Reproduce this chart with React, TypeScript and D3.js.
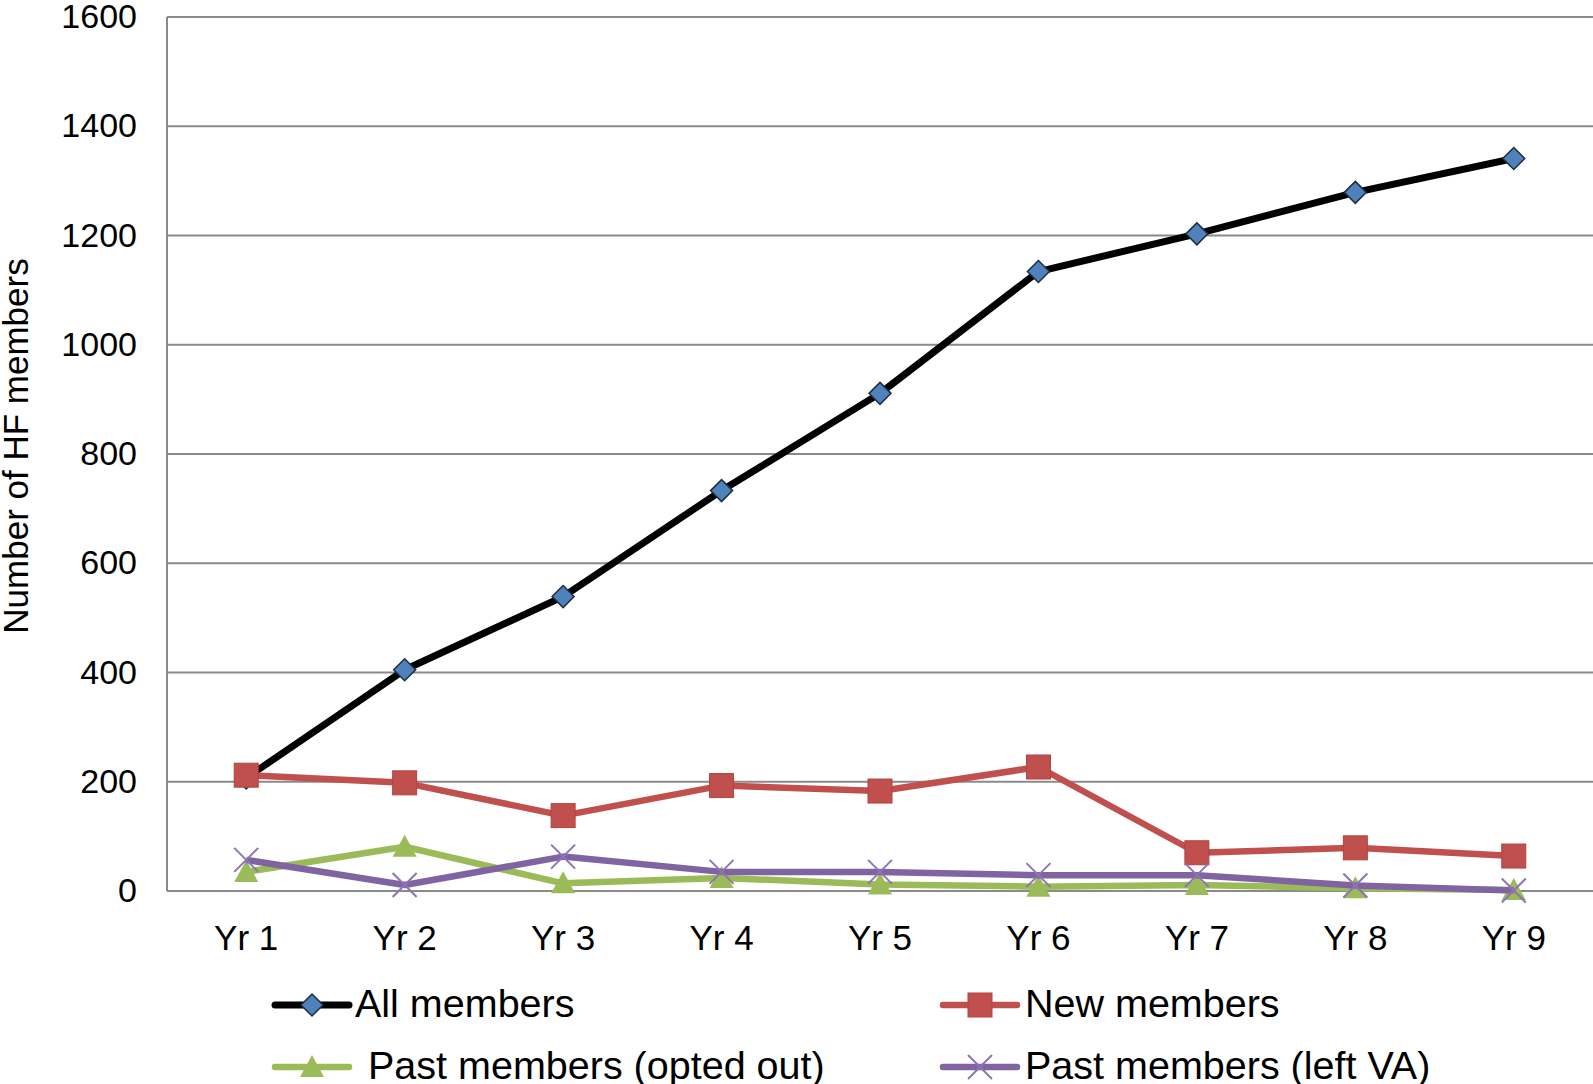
import React from "react";
import * as d3 from "d3";

const categories = ["Yr 1", "Yr 2", "Yr 3", "Yr 4", "Yr 5", "Yr 6", "Yr 7", "Yr 8", "Yr 9"];
const allMembers = [207, 405, 539, 733, 911, 1134, 1203, 1279, 1341];
const newMembers = [212, 198, 138, 193, 183, 227, 70, 79, 64];
const pastOptedOut = [35, 81, 14, 24, 12, 8, 11, 5, 2];
const pastLeftVA = [57, 11, 63, 35, 35, 29, 29, 10, 1];
const yTicks = [0, 200, 400, 600, 800, 1000, 1200, 1400, 1600];

const W = 1593;
const H = 1084;
const FONT = "'Liberation Sans', Arial, sans-serif";

type MarkerKind = "diamond" | "square" | "triangle" | "x";

function Marker({ kind, x, y }: { kind: MarkerKind; x: number; y: number }) {
  if (kind === "diamond") {
    const r = 11;
    return (
      <path
        d={`M${x},${y - r}L${x + r},${y}L${x},${y + r}L${x - r},${y}Z`}
        fill="#4F81BD"
        stroke="#1f2d3d"
        strokeWidth={1.5}
      />
    );
  }
  if (kind === "square") {
    const s = 24;
    return <rect x={x - s / 2} y={y - s / 2} width={s} height={s} fill="#C0504D" stroke="#B4413E" strokeWidth={1} />;
  }
  if (kind === "triangle") {
    const w = 24, h = 20;
    return <path d={`M${x},${y - h / 2 - 2}L${x + w / 2},${y + h / 2}L${x - w / 2},${y + h / 2}Z`} fill="#9BBB59" />;
  }
  const r = 12;
  return (
    <g stroke="#8C74B6" strokeWidth={2}>
      <line x1={x - r} y1={y - r} x2={x + r} y2={y + r} />
      <line x1={x - r} y1={y + r} x2={x + r} y2={y - r} />
    </g>
  );
}

const series = [
  { name: "All members", values: allMembers, color: "#000000", width: 7, marker: "diamond" as MarkerKind },
  { name: "New members", values: newMembers, color: "#C0504D", width: 6.5, marker: "square" as MarkerKind },
  { name: "Past members (opted out)", values: pastOptedOut, color: "#9BBB59", width: 6.5, marker: "triangle" as MarkerKind },
  { name: "Past members (left VA)", values: pastLeftVA, color: "#8064A2", width: 6.5, marker: "x" as MarkerKind },
];

export default function App() {
  const left = 167, right = 1593, top = 17, bottom = 891;
  const x = d3.scaleBand<string>().domain(categories).range([left, right]);
  const y = d3.scaleLinear().domain([0, 1600]).range([bottom, top]);
  const cx = (c: string) => (x(c) as number) + x.bandwidth() / 2;

  const line = d3
    .line<number>()
    .x((_, i) => cx(categories[i]))
    .y((v) => y(v));

  const legendItems = [
    { s: series[0], lx: 275, ly: 1005, tx: 355, ty: 1017 },
    { s: series[1], lx: 943, ly: 1005, tx: 1025, ty: 1017 },
    { s: series[2], lx: 275, ly: 1067, tx: 368, ty: 1079 },
    { s: series[3], lx: 943, ly: 1067, tx: 1025, ty: 1079 },
  ];

  return (
    <svg width={W} height={H} style={{ position: "absolute", left: 0, top: 0, background: "#fff" }}>
      <rect x={0} y={0} width={W} height={H} fill="#fff" />
      {yTicks.map((t) => (
        <g key={t}>
          <line x1={left} x2={right} y1={y(t)} y2={y(t)} stroke="#8a8a8a" strokeWidth={2} />
          <text x={137} y={y(t) + 11} textAnchor="end" fontFamily={FONT} fontSize={34} fill="#000">
            {t}
          </text>
        </g>
      ))}
      <line x1={left} x2={left} y1={top} y2={bottom} stroke="#8a8a8a" strokeWidth={2} />
      {categories.map((c) => (
        <text key={c} x={cx(c)} y={950} textAnchor="middle" fontFamily={FONT} fontSize={35} fill="#000">
          {c}
        </text>
      ))}
      <text
        transform={`translate(28,446) rotate(-90)`}
        textAnchor="middle"
        fontFamily={FONT}
        fontSize={35}
        fill="#000"
      >
        Number of HF members
      </text>
      {series.map((s) => (
        <g key={s.name}>
          <path d={line(s.values) || ""} fill="none" stroke={s.color} strokeWidth={s.width} strokeLinejoin="round" />
          {s.values.map((v, i) => (
            <Marker key={i} kind={s.marker} x={cx(categories[i])} y={y(v)} />
          ))}
        </g>
      ))}
      {legendItems.map(({ s, lx, ly, tx, ty }) => (
        <g key={s.name}>
          <line x1={lx} x2={lx + 74} y1={ly} y2={ly} stroke={s.color} strokeWidth={s.width} strokeLinecap="round" />
          <Marker kind={s.marker} x={lx + 37} y={ly} />
          <text x={tx} y={ty} fontFamily={FONT} fontSize={39.5} fill="#000">
            {s.name}
          </text>
        </g>
      ))}
    </svg>
  );
}
